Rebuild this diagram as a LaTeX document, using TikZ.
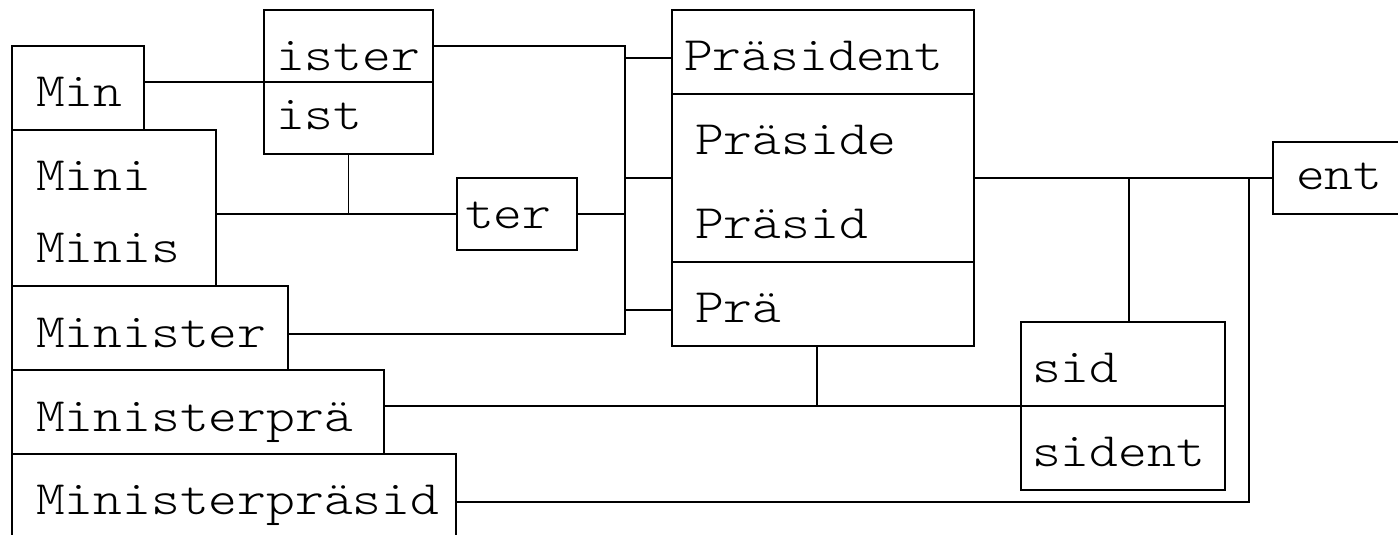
\documentclass[tikz,border=0pt]{standalone}
\usepackage{fontspec}
\newfontfamily\cour[FakeStretch=1.143]{lmmonolt10-regular.otf}
\begin{document}
\begin{tikzpicture}[x=0.5pt,y=-0.5pt,line width=0.65pt,
  box/.style={draw,rectangle,anchor=north west,inner sep=0pt,outer sep=0pt},
  lbl/.style={anchor=base west,inner sep=0pt,outer sep=0pt,font=\cour\fontsize{24pt}{28pt}\selectfont}]
\useasboundingbox (0,0) rectangle (1398,535);
\clip (0,0) rectangle (1398,535);
% left boxes
\node[box,minimum width=66pt,minimum height=42pt] (Min) at (12,46) {};
\node[box,minimum width=102pt,minimum height=78pt] (Minis) at (12,130) {};
\node[box,minimum width=138pt,minimum height=42pt] (Minister) at (12,286) {};
\node[box,minimum width=186pt,minimum height=42pt] (Ministerpra) at (12,370) {};
\node[box,minimum width=222pt,minimum height=42pt] (Ministerpraesid) at (12,454) {};
% middle boxes
\node[box,minimum width=84.5pt,minimum height=36pt] (ister) at (264,10) {};
\node[box,minimum width=84.5pt,minimum height=36pt] (ist) at (264,82) {};
\node[box,minimum width=60pt,minimum height=36pt] (ter) at (457,178) {};
\node[box,minimum width=151pt,minimum height=42pt] (Praesident) at (672,10) {};
\node[box,minimum width=151pt,minimum height=84pt] (Praeside) at (672,94) {};
\node[box,minimum width=151pt,minimum height=42pt] (Prae) at (672,262) {};
% right boxes
\node[box,minimum width=102pt,minimum height=42pt] (sid) at (1021,322) {};
\node[box,minimum width=102pt,minimum height=42pt] (sident) at (1021,406) {};
\node[box,minimum width=66pt,minimum height=36pt] (ent) at (1273,142) {};
% labels
\node[lbl] (tMin) at (36,107) {Min};
\node[lbl] (tMini) at (36,191) {Mini};
\node[lbl] (tMinis) at (36,262) {Minis};
\node[lbl] (tMinister) at (36,347) {Minister};
\node[lbl] (tMinisterpra) at (36,431) {Ministerprä};
\node[lbl] (tMinisterpraesid) at (36,514) {Ministerpräsid};
\node[lbl] (tister) at (276,71) {ister};
\node[lbl] (tist) at (276,130) {ist};
\node[lbl] (tter) at (465,228) {ter};
\node[lbl] (tPraesident) at (684,71) {Präsident};
\node[lbl] (tPraeside) at (695,155) {Präside};
\node[lbl] (tPraesid) at (695,238) {Präsid};
\node[lbl] (tPrae) at (695,322) {Prä};
\node[lbl] (tsid) at (1032,382) {sid};
\node[lbl] (tsident) at (1032,466) {sident};
\node[lbl] (tent) at (1296,190) {ent};
% junction coordinates
\coordinate (b1) at (625,46);
\coordinate (b2) at (625,334);
\coordinate (s1) at (625,58);
\coordinate (s2) at (625,178);
\coordinate (s3) at (625,310);
\coordinate (j1) at (1129,178);
\coordinate (j2) at (817,406);
\coordinate (j3) at (1249,178);
\coordinate (j4) at (1249,502);
% connectors
\draw (Min.east |- ist.north) -- (ist.north west);
\draw (ister.east) -- (b1) -- (b2) -- (Minister.east |- b2);
\draw (s1) -- (s1 -| Praesident.west);
\draw (s2) -- (s2 -| Praeside.west);
\draw (s3) -- (s3 -| Prae.west);
\draw (Minis.east |- ter.west) -- (ter.west);
\draw (ist.south) -- (ist.south |- ter.west);
\draw (ter.east) -- (ter.east -| b1);
\draw (Praeside.east) -- (ent.west);
\draw (j1) -- (j1 |- sid.north);
\draw (Ministerpra.east |- sid.south west) -- (sid.south west);
\draw (Prae.south -| j2) -- (j2);
\draw (Ministerpraesid.east |- j4) -- (j4) -- (j3);
\end{tikzpicture}
\end{document}
